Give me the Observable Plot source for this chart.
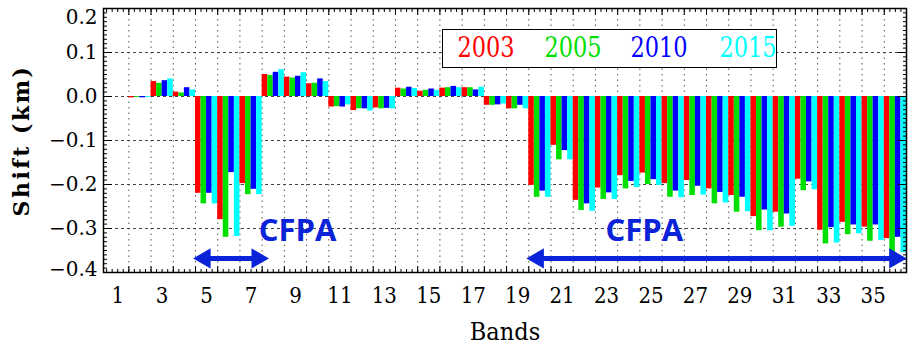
<!DOCTYPE html>
<html>
<head>
<meta charset="utf-8">
<script src="https://cdn.jsdelivr.net/npm/d3@7"></script>
<script src="https://cdn.jsdelivr.net/npm/@observablehq/plot@0.6"></script>
<style>
  html, body { margin: 0; padding: 0; background: #fff; }
  #wrap { position: relative; width: 908px; height: 347px; }
  #legend { position: absolute; left: 442px; top: 29px; width: 335px; height: 39px;
            box-sizing: border-box; border: 1.5px solid #000; background: #fff; }
  #legend span { position: absolute; top: 3px; transform: translateX(-50%) scaleY(1.15);
            font-family: "DejaVu Serif Condensed", "Liberation Serif", serif; font-size: 25px; line-height: 30px; }
</style>
</head>
<body>
<div id="wrap"><div id="legend"></div></div>
<script>
// ---------------- data ----------------
const bands = [1,2,3,4,5,6,7,8,9,10,11,12,13,14,15,16,17,18,19,20,21,22,23,24,25,26,27,28,29,30,31,32,33,34,35,36];
const years = ["2003", "2005", "2010", "2015"];
const yearColors = ["#ff0000", "#00e000", "#0000ff", "#00ffff"];

const shift2003 = [0, -0.003, 0.034, 0.010, -0.220, -0.280, -0.198, 0.050, 0.044, 0.029, -0.024, -0.032, -0.026, 0.019, 0.012, 0.019, 0.020, -0.020, -0.028,
  -0.202, -0.111, -0.236, -0.208, -0.180, -0.174, -0.198, -0.191, -0.210, -0.225, -0.273, -0.263, -0.188, -0.304, -0.286, -0.297, -0.323];
const shift2005 = [0, -0.002, 0.030, 0.008, -0.244, -0.320, -0.223, 0.048, 0.042, 0.030, -0.023, -0.028, -0.028, 0.017, 0.014, 0.020, 0.020, -0.020, -0.028,
  -0.229, -0.144, -0.259, -0.234, -0.210, -0.200, -0.229, -0.225, -0.244, -0.263, -0.305, -0.297, -0.214, -0.335, -0.314, -0.329, -0.355];
const shift2010 = [0, -0.003, 0.036, 0.020, -0.220, -0.173, -0.211, 0.055, 0.046, 0.040, -0.024, -0.028, -0.027, 0.021, 0.017, 0.023, 0.015, -0.019, -0.020,
  -0.215, -0.123, -0.244, -0.219, -0.193, -0.189, -0.215, -0.204, -0.218, -0.229, -0.258, -0.267, -0.194, -0.298, -0.292, -0.292, -0.320];
const shift2015 = [0, -0.002, 0.040, 0.015, -0.244, -0.318, -0.223, 0.061, 0.054, 0.034, -0.019, -0.033, -0.028, 0.018, 0.014, 0.020, 0.021, -0.017, -0.028,
  -0.229, -0.144, -0.261, -0.234, -0.207, -0.202, -0.230, -0.224, -0.242, -0.262, -0.305, -0.295, -0.212, -0.333, -0.312, -0.327, -0.355];

const yTickValues = [0.2, 0.1, 0.0, -0.1, -0.2, -0.3, -0.4];
const xTickBands = [1, 3, 5, 7, 9, 11, 13, 15, 17, 19, 21, 23, 25, 27, 29, 31, 33, 35];
const cfpaSpans = [{first: 5, last: 7, label: "CFPA"}, {first: 20, last: 36, label: "CFPA"}];

// ---------------- build table ----------------
const seriesValues = [shift2003, shift2005, shift2010, shift2015];
const rows = bands.flatMap((b, i) => years.map((y, k) => ({band: b, year: y, k, value: seriesValues[k][i]})));
const nSeries = years.length;
const xMin = 0.36, xMax = bands[bands.length - 1] + 0.5;
const boundaries = bands.slice(0, -1).map(b => b + 0.5);
const minorY = d3.range(-40, 21).map(i => i / 100);
const minorX = d3.range(Math.ceil(xMin * 4), xMax * 4 + 1).map(i => i / 4);
const innerY = yTickValues.filter(v => v < 0.2 && v > -0.4);
const yTop = yTickValues[0], yBottom = yTickValues[yTickValues.length - 1];
const yMiddle = yTickValues.slice(1, -1);

const blue = "#0a22d8";
const arrowY = -0.368, labelY = -0.305;
const arrows = cfpaSpans.map(d => ({...d, x1: d.first - 0.6, x2: Math.min(d.last + 0.8, xMax)}));
const tickFont = "DejaVu Serif";
const axisFont = "DejaVu Serif Condensed, Liberation Serif, serif";
const yLabelOpts = {anchor: "left", tickSize: 0, tickPadding: 6, tickFormat: d3.format(".1f"), label: null, fontSize: 20, fontFamily: tickFont};

const chart = Plot.plot({
  width: 908,
  height: 347,
  marginLeft: 103,
  marginRight: 2,
  marginTop: 8,
  marginBottom: 75,
  style: {background: "white", fontFamily: tickFont, overflow: "visible"},
  x: {type: "linear", domain: [xMin, xMax]},
  y: {domain: [yBottom, yTop]},
  color: {domain: years, range: yearColors},
  marks: [
    Plot.ruleX(boundaries, {stroke: "#555", strokeWidth: 1, strokeDasharray: "1.5,4"}),
    Plot.ruleY(innerY, {stroke: "#444", strokeWidth: 1, strokeDasharray: "3,3"}),
    Plot.rect(rows, {
      x1: d => d.band - 0.5 + d.k / nSeries,
      x2: d => d.band - 0.5 + (d.k + 1) / nSeries,
      y1: 0, y2: "value", fill: "year"
    }),
    // minor/major inward ticks on all four sides
    Plot.axisY(minorY, {anchor: "left", tickSize: 4, dx: 4, tickFormat: () => "", label: "Shift (km)", labelAnchor: "center", labelArrow: false, labelOffset: 90, fontSize: 22, fontWeight: "bold", fontFamily: tickFont}),
    Plot.axisY(minorY, {anchor: "right", tickSize: 4, dx: -4, tickFormat: () => "", label: null}),
    Plot.axisY(yTickValues, {anchor: "left", tickSize: 9, dx: 9, tickFormat: () => "", label: null}),
    Plot.axisY(yTickValues, {anchor: "right", tickSize: 9, dx: -9, tickFormat: () => "", label: null}),
    Plot.axisY(yMiddle, yLabelOpts),
    Plot.axisY([yTop], {...yLabelOpts, dy: 9}),
    Plot.axisY([yBottom], {...yLabelOpts, dy: -3}),
    Plot.axisX(minorX, {anchor: "bottom", tickSize: 3, dy: -3, tickFormat: () => "", label: null}),
    Plot.axisX(minorX, {anchor: "top", tickSize: 3, dy: 3, tickFormat: () => "", label: null}),
    Plot.axisX(boundaries, {anchor: "bottom", tickSize: 6, dy: -6, tickFormat: () => "", label: null}),
    Plot.axisX(boundaries, {anchor: "top", tickSize: 6, dy: 6, tickFormat: () => "", label: null}),
    Plot.axisX(xTickBands, {anchor: "bottom", tickSize: 0, tickPadding: 15, tickFormat: d => String(d), label: null, fontSize: 22, fontFamily: axisFont}),
    Plot.axisX([], {anchor: "bottom", tickSize: 0, tickFormat: () => "", label: "Bands", labelAnchor: "center", labelArrow: false, labelOffset: 67, dx: 10, fontSize: 25, fontFamily: axisFont}),
    Plot.frame({stroke: "#000", strokeWidth: 1.5}),
    // CFPA annotations
    Plot.ruleY(arrows, {y: arrowY, x1: "x1", x2: "x2", stroke: blue, strokeWidth: 5, insetLeft: 9, insetRight: 9}),
    Plot.dot(arrows, {x: "x1", y: arrowY, symbol: "triangle", rotate: -90, r: 7.5, fill: blue, stroke: null, dx: 11.5}),
    Plot.dot(arrows, {x: "x2", y: arrowY, symbol: "triangle", rotate: 90, r: 7.5, fill: blue, stroke: null, dx: -11.5}),
    Plot.text(cfpaSpans, {
      x: d => (d.last - d.first < 5 ? d.last + 0.35 : d.first + 2.95),
      y: labelY, text: "label", textAnchor: "start", fill: blue,
      fontSize: 31, fontWeight: "bold", fontFamily: "Open Sans, Liberation Sans, sans-serif"
    })
  ]
});

const ylab = chart.querySelector('[aria-label="y-axis label"] text');
if (ylab) ylab.setAttribute("letter-spacing", "2.5");

const wrap = document.getElementById("wrap");
wrap.insertBefore(chart, wrap.firstChild);

// legend (inside the plot area, as in the original)
const legend = document.getElementById("legend");
const legendCenters = [43, 130, 216, 305];
years.forEach((y, k) => {
  const s = document.createElement("span");
  s.textContent = y;
  s.style.color = yearColors[k];
  s.style.left = legendCenters[k] + "px";
  legend.appendChild(s);
});
</script>
</body>
</html>
